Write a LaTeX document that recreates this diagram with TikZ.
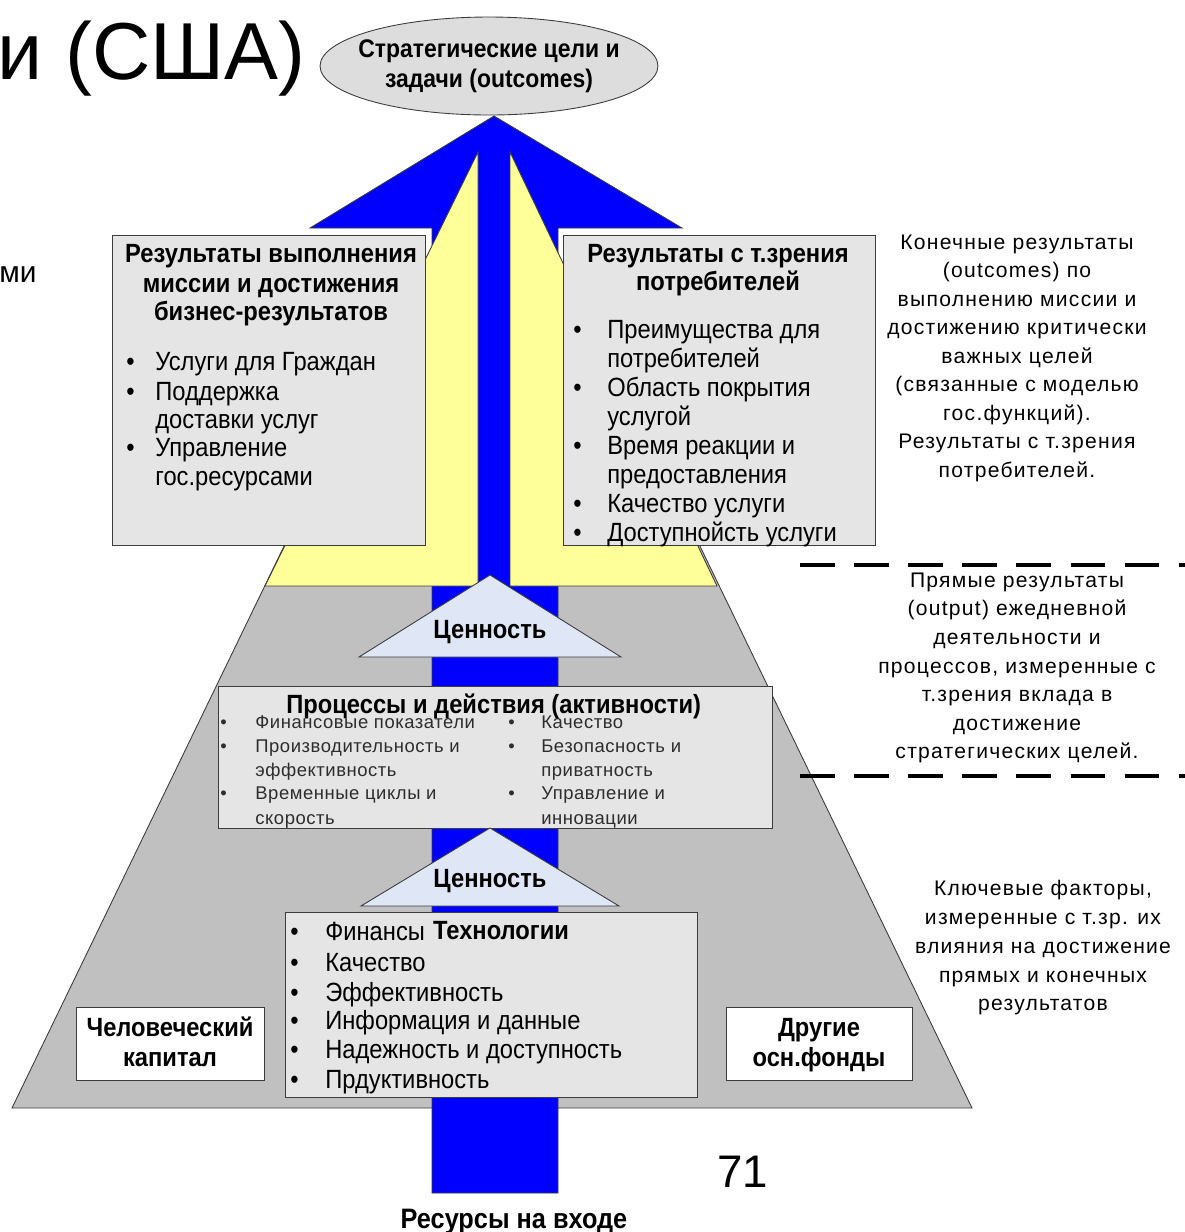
\documentclass[tikz,border=0pt]{standalone}
\usepackage{fontspec}
\setmainfont{Liberation Sans}
\newfontfamily\nf[FakeStretch=0.9]{Liberation Sans}
\newfontfamily\af[LetterSpace=6]{Liberation Sans}
\newfontfamily\pf[LetterSpace=3]{Liberation Sans}
\usetikzlibrary{shapes.geometric}
\definecolor{bluef}{RGB}{0,0,255}
\definecolor{yell}{RGB}{255,255,153}
\definecolor{trap}{RGB}{192,192,192}
\definecolor{boxf}{RGB}{229,229,229}
\definecolor{trif}{RGB}{223,230,245}
\definecolor{ellf}{RGB}{221,221,221}
\definecolor{edge}{RGB}{60,60,60}
\definecolor{itc}{RGB}{45,45,45}
\begin{document}
\begin{tikzpicture}[x=0.02cm,y=-0.02cm,
  shp/.style={draw=edge, line width=0.5pt},
  bt/.style={font=\nf\bfseries\fontsize{15}{18}\selectfont, inner sep=0, anchor=base},
  it/.style={font=\nf\fontsize{15}{18}\selectfont, inner sep=0, anchor=base west},
  pt/.style={font=\pf\fontsize{10.5}{12}\selectfont, text=itc, inner sep=0, anchor=base west},
  dt/.style={font=\af\fontsize{12}{14}\selectfont, inner sep=0, anchor=base},
  dsh/.style={line width=2.3pt, dash pattern=on 19.8pt off 11pt}]
\path[use as bounding box] (0,0) rectangle (1185,1232);

% slide title fragments
\node[font=\fontsize{46}{50}\selectfont, inner sep=0, anchor=base east] (ttl) at (306,79) {и (США)};
\node[font=\fontsize{17}{20}\selectfont, inner sep=0, anchor=base west] (mi) at (-1,282) {ми};

% pyramid
\draw[shp, fill=trap] (12,1108) -- (972,1108) -- (697,540) -- (287,540) -- cycle;
% blue arrow
\draw[shp, fill=bluef] (432,1193) -- (432,228) -- (310,228) -- (494,116) -- (682,228) -- (558,228) -- (558,1193) -- cycle;
% yellow arrows
\draw[shp, fill=yell] (478,152) -- (265,586) -- (478,586) -- cycle;
\draw[shp, fill=yell] (510,152) -- (717,586) -- (510,586) -- cycle;

% goal ellipse
\node[shp, fill=ellf, ellipse, minimum width=6.76cm, minimum height=1.96cm, inner sep=0] (goal) at (489,66) {};
\node[align=center, inner sep=0, font=\nf\bfseries\fontsize{14.5}{17}\selectfont] (goaltxt) at (goal.center)
  {Стратегические цели и\\задачи (outcomes)};

% upper boxes
\draw[shp, fill=boxf] (112,235) rectangle (425,545);
\draw[shp, fill=boxf] (563,235) rectangle (875,545);
\node[bt] (lt1) at (271,262) {Результаты выполнения};
\node[bt] (lt2) at (271,292) {миссии и достижения};
\node[bt] (lt3) at (271,320) {бизнес-результатов};
\foreach \yy/\bb/\tx [count=\i] in {370/1/Услуги для Граждан, 400/1/Поддержка, 428/0/доставки услуг, 456/1/Управление, 485/0/гос.ресурсами}{
  \node[it] (li\i) at (155,\yy) {\tx};
  \ifnum\bb=1 \node[it] (lb\i) at (126,\yy) {•};\fi
}
\node[bt] (rt1) at (718,262) {Результаты с т.зрения};
\node[bt] (rt2) at (718,290) {потребителей};
\foreach \yy/\bb/\tx [count=\i] in {338/1/Преимущества для, 367/0/потребителей, 396/1/Область покрытия, 425/0/услугой, 454/1/Время реакции и, 483/0/предоставления, 512/1/Качество услуги, 541/1/Доступнойсть услуги}{
  \node[it] (ri\i) at (607,\yy) {\tx};
  \ifnum\bb=1 \node[it] (rb\i) at (573,\yy) {•};\fi
}

% upper value triangle
\draw[shp, fill=trif] (490,575) -- (359,657) -- (621,657) -- cycle;
\node[bt] (val1) at (490,638) {Ценность};

% processes box
\draw[shp, fill=boxf] (218,686) rectangle (772,828);
\foreach \yy/\bb/\tx [count=\i] in {728/1/Финансовые показатели, 752/1/Производительность и, 776/0/эффективность, 799/1/Временные циклы и, 824/0/скорость}{
  \node[pt] (pl\i) at (255,\yy) {\tx};
  \ifnum\bb=1 \node[pt] (plb\i) at (220,\yy) {•};\fi
}
\foreach \yy/\bb/\tx [count=\i] in {728/1/Качество, 752/1/Безопасность и, 776/0/приватность, 799/1/Управление и, 824/0/инновации}{
  \node[pt] (pr\i) at (541,\yy) {\tx};
  \ifnum\bb=1 \node[pt] (prb\i) at (508,\yy) {•};\fi
}
\node[bt, anchor=base west] (proc) at (286,713) {Процессы и действия (активности)};

% lower value triangle
\draw[shp, fill=trif] (490,828) -- (361,906) -- (619,906) -- cycle;
\node[bt] (val2) at (490,887) {Ценность};

% technology box
\draw[shp, fill=boxf] (285,912) rectangle (697,1097);
\foreach \yy/\tx [count=\i] in {940/Финансы, 971/Качество, 1001/Эффективность, 1029/Информация и данные, 1058/Надежность и доступность, 1088/Прдуктивность}{
  \node[it] (ti\i) at (325,\yy) {\tx};
  \node[it] (tb\i) at (290,\yy) {•};
}
\node[bt] (tech) at (501,939) {Технологии};

% side boxes
\draw[shp, fill=white] (76,1007) rectangle (264,1080);
\node[bt] (hc1) at (170,1036) {Человеческий};
\node[bt] (hc2) at (170,1066) {капитал};
\draw[shp, fill=white] (726,1007) rectangle (912,1080);
\node[bt] (of1) at (819,1036) {Другие};
\node[bt] (of2) at (819,1066) {осн.фонды};

% bottom labels
\node[bt, font=\nf\bfseries\fontsize{16}{18}\selectfont] (res) at (514,1228) {Ресурсы на входе};
\node[font=\fontsize{26}{30}\selectfont, inner sep=0, anchor=base west] (num) at (717,1187) {71};

% right descriptions
\foreach \yy/\tx [count=\i] in {249/Конечные результаты, 277/(outcomes) по, 306/выполнению миссии и, 334/достижению критически, 363/важных целей, 391/(связанные с моделью, 420/гос.функций)., 448/Результаты с т.зрения, 477/потребителей.}{
  \node[dt] (d\i) at (1017,\yy) {\tx};
}
\draw[dsh] (800,565) -- (1185,565);
\foreach \yy/\tx [count=\i] in {587/Прямые результаты, 615/(output) ежедневной, 644/деятельности и, 673/{процессов, измеренные с}, 701/т.зрения вклада в, 730/достижение, 758/стратегических целей.}{
  \node[dt] (e\i) at (1017,\yy) {\tx};
}
\draw[dsh] (800,776) -- (1185,776);
\foreach \yy/\tx [count=\i] in {895/{Ключевые факторы,}, 924/измеренные с т.зр. их, 953/влияния на достижение, 982/прямых и конечных, 1010/результатов}{
  \node[dt] (f\i) at (1043,\yy) {\tx};
}
\end{tikzpicture}
\end{document}
